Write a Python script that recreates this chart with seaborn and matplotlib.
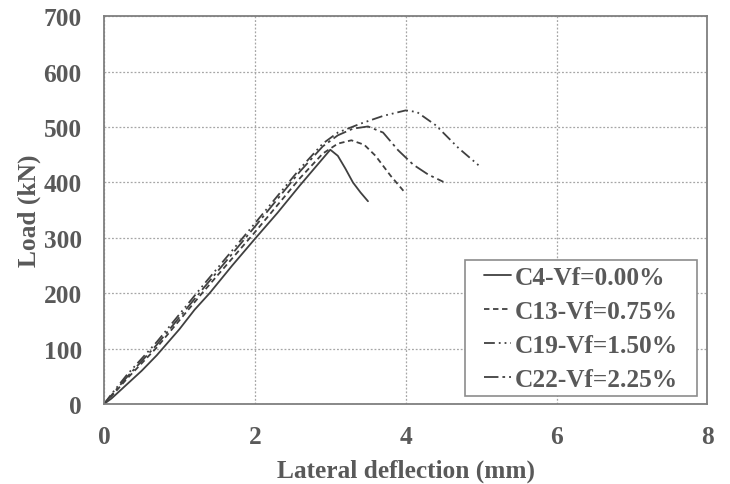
import matplotlib
matplotlib.use("Agg")
import matplotlib.pyplot as plt
from matplotlib.patches import Rectangle
import seaborn as sns
import pandas as pd
import numpy as np

# ---- data ----
c4_x = [0, 0.1, 0.3, 0.5, 0.7, 1.0, 1.2, 1.4, 1.7, 2.0, 2.3, 2.6, 2.85, 3.0, 3.1, 3.2, 3.3, 3.4, 3.5]
c4_y = [0, 10, 35, 60, 88, 135, 170, 200, 250, 298, 345, 395, 435, 459, 448, 425, 400, 382, 366]

c13_x = [0, 0.1, 0.3, 0.7, 1.3, 2.0, 2.6, 2.9, 3.1, 3.28, 3.45, 3.6, 3.8, 4.0]
c13_y = [0, 14, 45, 102, 200, 310, 408, 452, 470, 476, 468, 448, 412, 380]

c19_x = [0, 0.1, 0.3, 0.7, 1.3, 2.0, 2.6, 2.9, 3.1, 3.4, 3.7, 4.0, 4.15, 4.4, 4.7, 5.0]
c19_y = [0, 18, 52, 112, 212, 326, 425, 470, 490, 506, 520, 530, 527, 503, 462, 427]

c22_x = [0, 0.1, 0.3, 0.7, 1.3, 2.0, 2.6, 2.9, 3.1, 3.3, 3.5, 3.7, 3.9, 4.1, 4.3, 4.5]
c22_y = [0, 16, 48, 107, 206, 320, 420, 465, 485, 497, 501, 490, 458, 432, 414, 401]

labels = ["C4-Vf=0.00%", "C13-Vf=0.75%", "C19-Vf=1.50%", "C22-Vf=2.25%"]
x_ticks = [0, 2, 4, 6, 8]
y_ticks = [0, 100, 200, 300, 400, 500, 600, 700]

series = [(c4_x, c4_y), (c13_x, c13_y), (c19_x, c19_y), (c22_x, c22_y)]
styles = ["-", (0, (3, 2)), (0, (6, 2.2, 1, 2.2, 1, 2.2)), (0, (8, 2.2, 1.5, 2.2))]

sns.set_theme(style="white")
plt.rcParams["font.family"] = ["Liberation Serif", "DejaVu Serif"]
plt.rcParams["font.weight"] = "bold"

text_c = "#595959"
line_c = "#404040"
fs = 18.3

fig = plt.figure(figsize=(7.3, 4.85), dpi=100)
ax = fig.add_axes([0.1425, 0.165, 0.8265, 0.7995])

for (xs, ys), lab, ls in zip(series, labels, styles):
    df = pd.DataFrame({"x": xs, "y": ys})
    sns.lineplot(data=df, x="x", y="y", ax=ax, sort=False, color=line_c,
                 linewidth=1.3, linestyle=ls, label=lab)

ax.set_xlim(0, 8)
ax.set_ylim(0, 700)
ax.set_xticks(x_ticks)
ax.set_yticks(y_ticks)
ax.set_xticklabels([str(t) for t in x_ticks])
ax.set_yticklabels([str(t) for t in y_ticks])
ax.tick_params(axis="both", length=0, labelsize=fs, labelcolor=text_c)
ax.tick_params(axis="x", pad=15)
ax.tick_params(axis="y", pad=16)
for lab in ax.get_xticklabels() + ax.get_yticklabels():
    lab.set_fontweight("bold")

ax.grid(True, linestyle=(0, (1.5, 1.5)), color="#a6a6a6", linewidth=0.9)
for s in ax.spines.values():
    s.set_visible(True)
    s.set_color("#7f7f7f")
    s.set_linewidth(1.3)

ax.set_xlabel("Lateral deflection (mm)", fontsize=fs, fontweight="bold", color=text_c, labelpad=8)
ax.set_ylabel("Load (kN)", fontsize=fs, fontweight="bold", color=text_c, labelpad=2)

leg = ax.legend(loc="lower right", bbox_to_anchor=(0.960, 0.02), fontsize=fs, frameon=False,
                handlelength=1.56, handletextpad=0.15,
                labelspacing=0.43, borderpad=0.22, borderaxespad=0)
leg.set_zorder(6)
for t in leg.get_texts():
    t.set_color(text_c)
    t.set_fontweight("bold")
# shorten the legend sample lines so they start inset from the frame
short_len = 27 * 72 / 100.0
for ln in leg.get_lines():
    xd = np.asarray(ln.get_xdata(), dtype=float)
    ln.set_xdata(np.linspace(xd[-1] - short_len, xd[-1], len(xd)))

# legend frame with extra right padding (as in the reference)
fig.canvas.draw()
bb = leg.get_window_extent(fig.canvas.get_renderer())
extra_right = 14
inv = ax.transAxes.inverted()
(x0, y0) = inv.transform((bb.x0, bb.y0))
(x1, y1) = inv.transform((bb.x1 + extra_right, bb.y1))
frame = Rectangle((x0, y0), x1 - x0, y1 - y0, transform=ax.transAxes,
                  facecolor="white", edgecolor="#8c8c8c", linewidth=1.2,
                  zorder=5.5, clip_on=False)
ax.add_artist(frame)

fig.savefig("out.png", dpi=100)
